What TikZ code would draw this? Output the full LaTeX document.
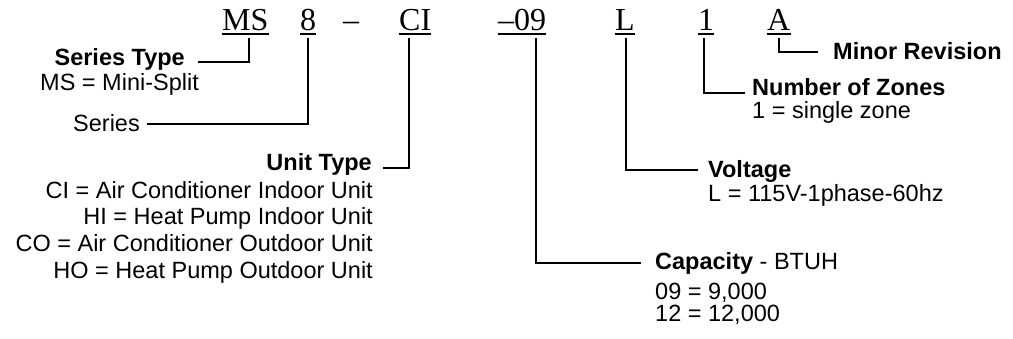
\documentclass[tikz,border=0pt]{standalone}
\usepackage{fontspec}
\setmainfont{Liberation Sans}
\newfontfamily\codefont{Liberation Serif}
\usepackage{tikz}

\begin{document}
\begin{tikzpicture}[
    x=1pt, y=-1pt,
    code/.style={font=\codefont\fontsize{32}{36}\selectfont, inner sep=0pt, anchor=base west},
    txt/.style={font=\fontsize{23.5}{26.7}\selectfont, inner sep=0pt},
    head/.style={font=\fontsize{23.5}{26.7}\selectfont\bfseries, inner sep=0pt},
    lead/.style={line width=1.8pt},
    uline/.style={line width=1.4pt}
]
    \useasboundingbox (0,0) rectangle (1013,339);

    % Model number
    \node[code] (ms)   at (222,31) {MS};
    \node[code] (ser)  at (300,31) {8};
    \node[code] (dash) at (343,31) {–};
    \node[code] (ci)   at (399,31) {CI};
    \node[code] (cap)  at (498,31) {–09};
    \node[code] (volt) at (615,31) {L};
    \node[code] (zone) at (698,31) {1};
    \node[code] (rev)  at (767,31) {A};
    \foreach \n in {ms,ser,ci,cap,volt,zone,rev} {
        \draw[uline] ([yshift=-3pt]\n.base west) -- ([yshift=-3pt]\n.base east);
    }

    % Left labels
    \node[head, anchor=base east] (seriestype) at (185,66) {Series Type};
    \node[txt, anchor=base west] (mstext) at (40,91) {MS = Mini-Split};
    \node[txt, anchor=base east] (series) at (140,132) {Series};
    \node[head, anchor=base east] (unittype) at (372,171) {Unit Type};
    \node[txt, anchor=north east, align=right] (unitlist) at (373,181)
        {CI = Air Conditioner Indoor Unit\\HI = Heat Pump Indoor Unit\\
         CO = Air Conditioner Outdoor Unit\\HO = Heat Pump Outdoor Unit};

    % Right labels
    \node[head, anchor=base west] (revlabel) at (833,60) {Minor Revision};
    \node[head, anchor=base west] (zoneslabel) at (752,96) {Number of Zones};
    \node[txt, anchor=base west] (zonestext) at (752,119) {1 = single zone};
    \node[head, anchor=base west] (voltlabel) at (708,178) {Voltage};
    \node[txt, anchor=base west] (volttext) at (708,202) {L = 115V-1phase-60hz};
    \node[txt, anchor=base west] (caplabel) at (655,270) {\textbf{Capacity} - BTUH};
    \node[txt, font=\fontsize{23.5}{21.5}\selectfont, anchor=north west, align=left] (caplist) at (655,283)
        {09 = 9,000\\12 = 12,000};

    % Leaders
    \draw[lead] ([xshift=27pt,yshift=-7pt]ms.base west) |- ([xshift=13pt,yshift=4pt]seriestype.base east);
    \draw[lead] ([xshift=8pt,yshift=-7pt]ser.base west) |- ([xshift=7pt,yshift=8pt]series.base east);
    \draw[lead] ([xshift=10pt,yshift=-7pt]ci.base west) |- ([xshift=11pt,yshift=3pt]unittype.base east);
    \draw[lead] ([xshift=38pt,yshift=-7pt]cap.base west) |- ([xshift=-14pt,yshift=7pt]caplabel.base west);
    \draw[lead] ([xshift=11pt,yshift=-7pt]volt.base west) |- ([xshift=-10pt,yshift=8pt]voltlabel.base west);
    \draw[lead] ([xshift=6pt,yshift=-7pt]zone.base west) |- ([xshift=-7pt,yshift=3pt]zoneslabel.base west);
    \draw[lead] ([xshift=12pt,yshift=-7pt]rev.base west) |- ([xshift=-15pt,yshift=8pt]revlabel.base west);
\end{tikzpicture}
\end{document}
